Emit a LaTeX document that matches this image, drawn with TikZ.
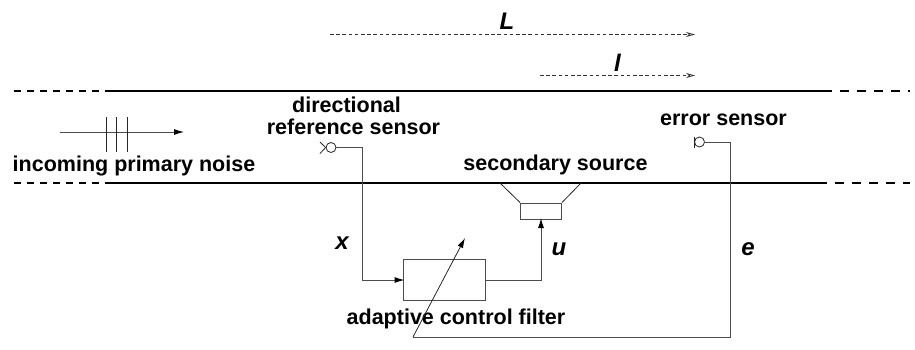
\documentclass[tikz,border=0pt]{standalone}
\usepackage{fontspec}
\setmainfont{Liberation Sans}
\usetikzlibrary{arrows.meta}
\tikzset{
 x=1pt,y=-1pt,
 wall/.style={line width=2pt,black},
 walll/.style={line width=2pt,black,dash pattern=on 6.5pt off 6.5pt},
 wallr/.style={line width=2pt,black,dash pattern=on 8.5pt off 8.5pt},
 wire/.style={line width=1pt,black!70},
 thin1/.style={line width=0.8pt,black!85},
 tip/.style={-{Latex[length=10pt,width=6pt,black]}},
 dimline/.style={line width=0.7pt,black!80,dash pattern=on 3.6pt off 2.6pt,-{Stealth[open,length=9pt,width=5pt]}},
 lab/.style={font=\fontsize{21.5}{24}\bfseries\selectfont,inner sep=0pt,anchor=base},
 var/.style={font=\fontsize{24}{26}\bfseries\itshape\selectfont,inner sep=0pt,anchor=base},
 boxn/.style={draw,line width=1pt,black!70,inner sep=0pt},
}
\begin{document}
\begin{tikzpicture}
\useasboundingbox (0,0) rectangle (915,349);
% walls
\coordinate (tl) at (111,91); \coordinate (tr) at (823,91);
\coordinate (bl) at (111,183); \coordinate (br) at (818,183);
\coordinate (tld) at (14,91); \coordinate (trd) at (910,91);
\coordinate (bld) at (14,183); \coordinate (brd) at (910,183);
\draw[wall] (tl) -- (tr);
\draw[wall] (bl) -- (br);
\draw[walll] (tld) -- (tl);
\draw[walll] (bld) -- (bl);
\draw[wallr] (tr) -- (trd);
\draw[wallr] (br) -- (brd);
% L and l
\coordinate (La) at (330,34.5); \coordinate (Lb) at (695,34.5);
\coordinate (sa) at (540,75.5); \coordinate (sb) at (695,75.5);
\draw[dimline] (La) -- (Lb);
\draw[dimline] (sa) -- (sb);
\node[var] (Ltxt) at (507,29.5) {L};
\node[var] (ltxt) at (617.5,71) {l};
% incoming
\coordinate (na) at (60,132); \coordinate (nb) at (184,132);
\draw[wire,tip] (na) -- (nb);
\foreach \n/\xx in {t1/106,t2/116.5,t3/127}{
 \coordinate (\n a) at (\xx,117); \coordinate (\n b) at (\xx,152);
 \draw[thin1] (\n a) -- (\n b);}
\node[lab] (incoming) at (134,171.5) {incoming primary noise};
% reference sensor
\node[lab] (dir) at (346.5,112.5) {directional};
\node[lab] (ref) at (353.5,134) {reference sensor};
\node[draw,circle,line width=0.8pt,black!85,minimum size=10pt,inner sep=0pt] (refs) at (331,147.5) {};
\coordinate (xa) at (320,142); \coordinate (xb) at (320,153.5);
\draw[thin1] (xa) -- (refs.west) -- (xb);
% filter
\node[boxn,minimum width=82pt,minimum height=41pt] (filter) at (444,280) {};
\node[lab] (ftxt) at (456,324.5) {adaptive control filter};
\coordinate (c1) at (362,147.5); \coordinate (c2) at (362,280);
\draw[wire,tip,shorten >=-2pt] (refs.east) -- (c1) -- (c2) -- (filter.west);
% speaker
\node[boxn,minimum width=41pt,minimum height=16pt] (spk) at (541,211) {};
\coordinate (h1) at (500,183); \coordinate (h2) at (581,183);
\draw[thin1] (h1) -- (spk.north west);
\draw[thin1] (h2) -- (spk.north east);
\node[lab] (sec) at (555.5,170) {secondary source};
\coordinate (c3) at (541,280);
\draw[wire,tip,shorten >=-1.5pt] (filter.east) -- (c3) -- (spk.south);
% error sensor
\node[lab] (err) at (723.5,125) {error sensor};
\node[draw,circle,line width=0.8pt,black!85,minimum size=10pt,inner sep=0pt] (errs) at (699.5,142) {};
\coordinate (ea) at (694.5,136.5); \coordinate (eb) at (694.5,147.5);
\draw[thin1] (ea) -- (eb);
\coordinate (c4) at (730.5,142); \coordinate (c5) at (730.5,337); \coordinate (c6) at (413,337);
\coordinate (c7) at (465,238);
\draw[wire] (errs.east) -- (c4) -- (c5) -- (c6);
\draw[thin1,tip] (c6) -- (c7);
% vars
\node[var] (xtxt) at (342,249) {x};
\node[var] (utxt) at (559,255) {u};
\node[var] (etxt) at (748,255) {e};
\end{tikzpicture}
\end{document}
